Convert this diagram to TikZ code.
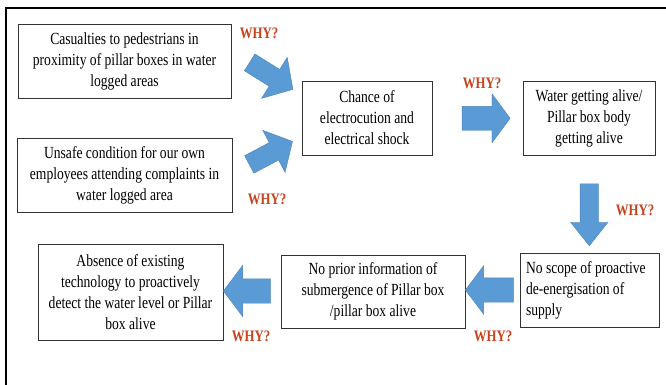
\documentclass[tikz,border=0pt]{standalone}
\usepackage{fontspec}
\setmainfont{Liberation Serif}[FakeStretch=0.8]
\usetikzlibrary{shapes.arrows}

\definecolor{arrowblue}{RGB}{91,155,213}
\definecolor{whyred}{RGB}{200,66,28}

\tikzset{
  box/.style={draw=black!80, line width=0.9pt, align=center, inner sep=4pt,
    font=\fontsize{17}{21}\selectfont},
  why/.style={text=whyred, inner sep=0pt, font=\fontsize{16}{18}\selectfont\bfseries},
  blockarrow/.style={single arrow, fill=arrowblue, draw=arrowblue!85!black,
    line width=0.4pt, inner xsep=0pt, single arrow head indent=0pt}
}

\begin{document}
\begin{tikzpicture}[x=1pt, y=-1pt]
\path[use as bounding box, fill=white] (0,0) rectangle (666,385);
% frame, only top and left edges show
\draw[line width=2.5pt] (6,385) -- (6,8) -- (666,8);

% boxes
\node[box, minimum width=213pt, minimum height=74pt] (cas) at (124.5,61) {Casualties to pedestrians in\\proximity of pillar boxes in water\\logged areas};
\node[box, minimum width=215pt, minimum height=74pt] (unsafe) at (124.5,175) {Unsafe condition for our own\\employees attending complaints in\\water logged area};
\node[box, minimum width=130pt, minimum height=74pt] (chance) at (367,118) {Chance of\\electrocution and\\electrical shock};
\node[box, minimum width=132pt, minimum height=74pt] (alive) at (589,118) {Water getting alive/\\Pillar box body\\getting alive};
\node[box, align=flush left, text width=127pt, inner xsep=6pt, minimum height=74pt] (scope) at (589.5,290) {No scope of proactive\\de-energisation of\\supply};
\node[box, minimum width=184pt, minimum height=73pt] (prior) at (373,291.5) {No prior information of\\submergence of Pillar box\\/pillar box alive};
\node[box, minimum width=185pt, minimum height=96pt] (absence) at (130.5,292) {Absence of existing\\technology to proactively\\detect the water level or Pillar\\box alive};

% block arrows (shaft = 2 x inner ysep)
\node[blockarrow, minimum height=51pt, inner ysep=9.7pt, single arrow head extend=14.3pt,
  single arrow tip angle=96, rotate=-32] (ar1) at (267.5,73.5) {};
\node[blockarrow, minimum height=49pt, inner ysep=9.7pt, single arrow head extend=13.9pt,
  single arrow tip angle=97, rotate=28] (ar2) at (267,155) {};
\node[blockarrow, minimum height=48pt, inner ysep=11.75pt, single arrow head extend=12.6pt,
  single arrow tip angle=107] (ar3) at (481.7,118.3) {};
\node[blockarrow, minimum height=62pt, inner ysep=9pt, single arrow head extend=9.5pt,
  single arrow tip angle=77, rotate=-90] (ar4) at (589.3,209) {};
\node[blockarrow, minimum height=48pt, inner ysep=12pt, single arrow head extend=12pt,
  single arrow tip angle=106, rotate=180] (ar5) at (494,290) {};
\node[blockarrow, minimum height=47pt, inner ysep=12pt, single arrow head extend=13.5pt,
  single arrow tip angle=106, rotate=180] (ar6) at (251.5,291) {};

% labels
\node[why] (w1) at (259,33) {WHY?};
\node[why] (w2) at (267,199) {WHY?};
\node[why] (w3) at (482,83) {WHY?};
\node[why] (w4) at (635,210) {WHY?};
\node[why] (w5) at (493,336) {WHY?};
\node[why] (w6) at (251,336) {WHY?};
\end{tikzpicture}
\end{document}
